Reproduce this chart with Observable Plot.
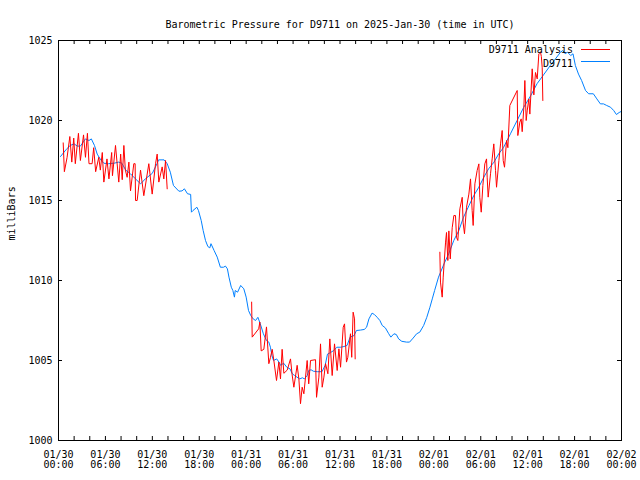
<!DOCTYPE html>
<html><head><meta charset="utf-8">
<script src="https://cdn.jsdelivr.net/npm/d3@7"></script>
<script src="https://cdn.jsdelivr.net/npm/@observablehq/plot@0.6"></script>
<style>html,body{margin:0;padding:0;background:#fff}</style>
</head><body><div id="chart"></div>
<script>
const titleText = "Barometric Pressure for D9711 on 2025-Jan-30 (time in UTC)";
const yLabel = "milliBars";
const seriesNames = ["D9711 Analysis", "D9711"];
const seriesColors = ["#ff0000", "#0080ff"];

const xTickHours = [0, 6, 12, 18, 24, 30, 36, 42, 48, 54, 60, 66, 72];
const xTickLabels = ["01/30\n00:00", "01/30\n06:00", "01/30\n12:00", "01/30\n18:00",
  "01/31\n00:00", "01/31\n06:00", "01/31\n12:00", "01/31\n18:00",
  "02/01\n00:00", "02/01\n06:00", "02/01\n12:00", "02/01\n18:00", "02/02\n00:00"];
const xMinorHours = [0,2,4,6,8,10,12,14,16,18,20,22,24,26,28,30,32,34,36,38,40,42,44,46,48,50,52,54,56,58,60,62,64,66,68,70,72];
const yTicks = [1000, 1005, 1010, 1015, 1020, 1025];

// D9711 (station) - hours since 2025-01-30 00:00 UTC
const stationHours = [0.26,1.0,1.5,2.0,2.4,2.8,3.45,3.9,4.2,4.6,4.95,5.4,5.8,6.4,7.1,7.7,8.1,8.6,9.2,9.85,10.5,11.1,12.0,12.6,12.8,13.5,13.9,14.3,14.7,15.4,15.8,16.1,16.5,16.9,17.0,17.2,17.7,17.9,18.25,18.5,18.8,19.1,19.35,19.5,19.9,20.3,20.7,21.1,21.35,21.6,21.8,22.1,22.3,22.5,22.6,22.9,23.3,23.7,24.0,24.3,24.6,24.9,25.2,25.5,25.8,26.2,26.6,26.9,27.1,27.3,27.5,27.9,28.2,28.4,28.8,29.2,29.6,29.9,30.2,30.5,30.85,31.2,31.45,31.8,32.0,32.3,32.6,33.1,33.7,34.1,34.4,34.8,35.2,35.6,36.1,36.5,36.9,37.3,37.8,38.1,38.6,39.1,39.4,39.7,40.1,40.4,40.75,41.1,41.4,41.8,42.2,42.5,42.9,43.2,43.5,43.9,44.5,44.9,45.35,45.8,46.2,46.7,47.1,47.5,47.8,48.1,48.6,49.3,49.9,50.55,51.2,51.8,52.5,53.1,53.75,54.4,55.0,55.7,56.3,56.9,57.8,58.65,59.5,60.4,61.2,62.1,62.9,63.55,64.2,64.5,64.8,65.1,65.5,65.8,66.1,66.5,66.9,67.4,67.8,68.4,68.85,69.3,69.7,70.1,70.6,71.0,71.35,71.7,71.9];
const stationValues = [1017.75,1018.2,1018.44,1018.54,1018.4,1018.4,1018.85,1018.75,1018.85,1018.44,1017.9,1017.54,1017.33,1017.3,1017.33,1017.4,1017.33,1016.9,1016.67,1016.35,1016.04,1016.35,1016.7,1017.3,1017.54,1017.54,1017.3,1016.77,1015.94,1015.58,1015.6,1015.73,1015.42,1015.38,1014.27,1014.375,1014.58,1014.375,1013.75,1013.125,1012.5,1012.125,1012.04,1012.3,1011.875,1011.46,1010.83,1010.83,1010.9,1010.73,1010.21,1009.58,1009.375,1008.96,1009.375,1009.27,1009.69,1009.48,1008.96,1008.125,1007.8,1007.6,1007.5,1007.7,1007.3,1006.67,1006.25,1006.15,1005.83,1005.3,1005.0,1005.1,1004.9,1004.7,1004.83,1004.58,1004.48,1004.17,1004.06,1003.96,1003.85,1003.92,1003.85,1004.06,1004.375,1004.42,1004.33,1004.3,1004.3,1004.7,1005.4,1005.5,1005.625,1005.83,1005.83,1005.875,1005.94,1006.46,1006.56,1006.875,1006.9,1006.94,1007.08,1007.6,1007.96,1007.875,1007.7,1007.5,1007.19,1007.04,1006.7,1006.46,1006.67,1006.625,1006.35,1006.2,1006.15,1006.15,1006.4,1006.67,1006.77,1007.19,1007.7,1008.33,1008.85,1009.375,1010.21,1011.04,1011.67,1012.5,1013.125,1013.96,1014.69,1015.3,1015.83,1016.46,1016.98,1017.4,1017.92,1018.3,1019.17,1020.0,1020.83,1021.56,1022.3,1022.9,1023.44,1023.85,1024.27,1024.375,1024.17,1024.27,1024.06,1024.17,1023.44,1022.9,1022.5,1021.875,1021.67,1021.67,1021.35,1021.04,1021.04,1020.94,1020.83,1020.625,1020.375,1020.5,1020.55];

// D9711 Analysis - three runs, separated by null gaps
const analysisHours = [0.60,0.75,1.10,1.45,1.70,1.95,2.15,2.55,2.80,3.20,3.45,3.70,3.90,4.30,4.50,4.75,5.15,5.35,5.60,5.80,6.20,6.45,6.80,6.90,7.29,7.71,7.95,8.15,8.36,8.55,8.78,9.00,9.21,9.63,9.80,9.85,10.06,10.49,10.91,11.55,11.98,12.41,12.62,12.83,13.26,13.47,13.69,13.90,
  20,
  24.70,24.77,25.60,25.75,25.92,26.26,26.60,26.90,27.11,27.33,27.54,27.88,28.18,28.39,28.60,28.82,29.25,29.67,29.88,30.10,30.52,30.74,30.95,31.16,31.38,31.80,32.00,32.23,32.87,33.00,33.30,33.51,33.72,33.94,34.15,34.45,34.70,35.00,35.30,35.64,35.86,36.07,36.41,36.58,36.83,37.00,37.34,37.50,37.68,37.86,37.94,
  44,
  48.77,48.85,49.07,49.20,49.50,49.62,49.79,49.92,50.10,50.35,50.56,50.77,50.90,51.07,51.33,51.63,51.75,51.92,52.18,52.48,52.69,52.90,53.03,53.25,53.54,53.76,53.88,54.06,54.27,54.52,54.74,54.82,54.95,55.25,55.46,55.67,55.89,56.02,56.32,56.53,56.74,56.87,57.04,57.30,57.47,57.72,58.66,58.74,59.00,59.17,59.30,59.51,59.64,59.81,59.94,60.15,60.28,60.58,60.79,61.00,61.22,61.43,61.64,61.75,61.86,61.94];
const analysisValues = [1018.6,1016.8,1017.7,1019.0,1017.4,1018.9,1017.3,1019.2,1017.5,1019.1,1017.7,1019.2,1017.3,1017.3,1018.3,1016.8,1017.7,1016.9,1018.0,1016.15,1017.6,1016.35,1018.0,1016.55,1018.44,1016.15,1017.9,1016.3,1018.44,1016.9,1016.45,1017.4,1015.6,1017.3,1017.3,1015.0,1015.0,1016.9,1015.3,1017.3,1015.4,1017.3,1017.9,1016.15,1017.1,1016.35,1017.5,1015.73,
  null,
  1008.65,1006.46,1006.98,1007.4,1005.6,1005.7,1007.1,1004.8,1005.2,1005.7,1005.0,1003.75,1004.9,1003.85,1005.7,1004.2,1004.4,1005.1,1004.1,1003.33,1004.7,1003.85,1002.3,1003.33,1002.92,1005.0,1003.54,1005.0,1005.05,1002.7,1003.96,1006.04,1003.33,1003.96,1004.8,1004.17,1006.35,1004.06,1006.04,1004.375,1005.73,1004.58,1007.08,1007.29,1004.9,1005.2,1006.67,1005.2,1008.02,1007.6,1005.1,
  null,
  1011.77,1009.9,1008.96,1010.21,1012.4,1013.0,1011.25,1013.1,1011.35,1013.3,1014.06,1014.06,1012.7,1012.5,1014.48,1015.2,1013.6,1012.92,1014.58,1015.4,1016.35,1014.375,1013.44,1016.04,1016.875,1017.29,1015.2,1014.27,1015.94,1017.29,1017.6,1016.46,1015.21,1016.67,1017.6,1018.54,1016.875,1015.83,1017.5,1018.54,1019.375,1017.5,1017.08,1018.75,1018.3,1020.94,1021.875,1019.06,1019.9,1020.1,1019.3,1020.8,1022.5,1020.0,1020.6,1021.35,1020.4,1023.23,1021.6,1023.0,1022.6,1024.17,1024.27,1024.0,1023.3,1021.25];

const station = stationHours.map((h, i) => ({h, v: stationValues[i]}));
const analysis = analysisHours.map((h, i) => ({h, v: analysisValues[i]}));

function legendMark(index, scales, values, dims) {
  const ns = "http://www.w3.org/2000/svg";
  const g = document.createElementNS(ns, "g");
  const right = dims.width - dims.marginRight;
  seriesNames.forEach((name, i) => {
    const t = document.createElementNS(ns, "text");
    t.setAttribute("x", right - 48);
    t.setAttribute("y", dims.marginTop + 9.5 + i * 14);
    t.setAttribute("dy", "0.32em");
    t.setAttribute("text-anchor", "end");
    t.setAttribute("fill", "black");
    t.textContent = name;
    g.appendChild(t);
    const r = document.createElementNS(ns, "rect");
    r.setAttribute("x", right - 40);
    r.setAttribute("width", 29);
    r.setAttribute("y", dims.marginTop + 9 + i * 12);
    r.setAttribute("height", 1);
    r.setAttribute("fill", seriesColors[i]);
    r.setAttribute("shape-rendering", "crispEdges");
    g.appendChild(r);
  });
  return g;
}

const chart = Plot.plot({
  width: 640,
  height: 480,
  marginLeft: 58,
  marginRight: 19,
  marginTop: 40,
  marginBottom: 40,
  style: {fontFamily: "'DejaVu Sans Mono', monospace", fontSize: "10px", background: "white", color: "black"},
  x: {type: "linear", domain: [0, 72]},
  y: {domain: [1000, 1025]},
  marks: [
    Plot.line(station, {x: "h", y: "v", stroke: seriesColors[1], strokeWidth: 1}),
    Plot.line(analysis, {x: "h", y: "v", stroke: seriesColors[0], strokeWidth: 1}),
    Plot.frame({stroke: "black", strokeWidth: 1}),
    Plot.tickX(xMinorHours, {x: d => d, insetTop: 396, stroke: "black"}),
    Plot.tickX(xMinorHours, {x: d => d, insetBottom: 396, stroke: "black"}),
    Plot.tickY(yTicks, {y: d => d, insetLeft: 559, stroke: "black"}),
    Plot.tickY(yTicks, {y: d => d, insetRight: 559, stroke: "black"}),
    Plot.axisX(xTickHours, {tickSize: 0, tickPadding: 10, tickFormat: (d) => xTickLabels[xTickHours.indexOf(d)], label: null, fill: "black"}),
    Plot.axisY(yTicks, {tickSize: 0, tickPadding: 6, tickFormat: (d) => String(d), label: null, fill: "black"}),
    Plot.text([titleText], {frameAnchor: "top", dy: -20, fill: "black"}),
    Plot.text([yLabel], {frameAnchor: "left", dx: -47, rotate: -90, fill: "black"}),
    legendMark
  ]
});
document.getElementById("chart").appendChild(chart);
</script>
</body></html>
